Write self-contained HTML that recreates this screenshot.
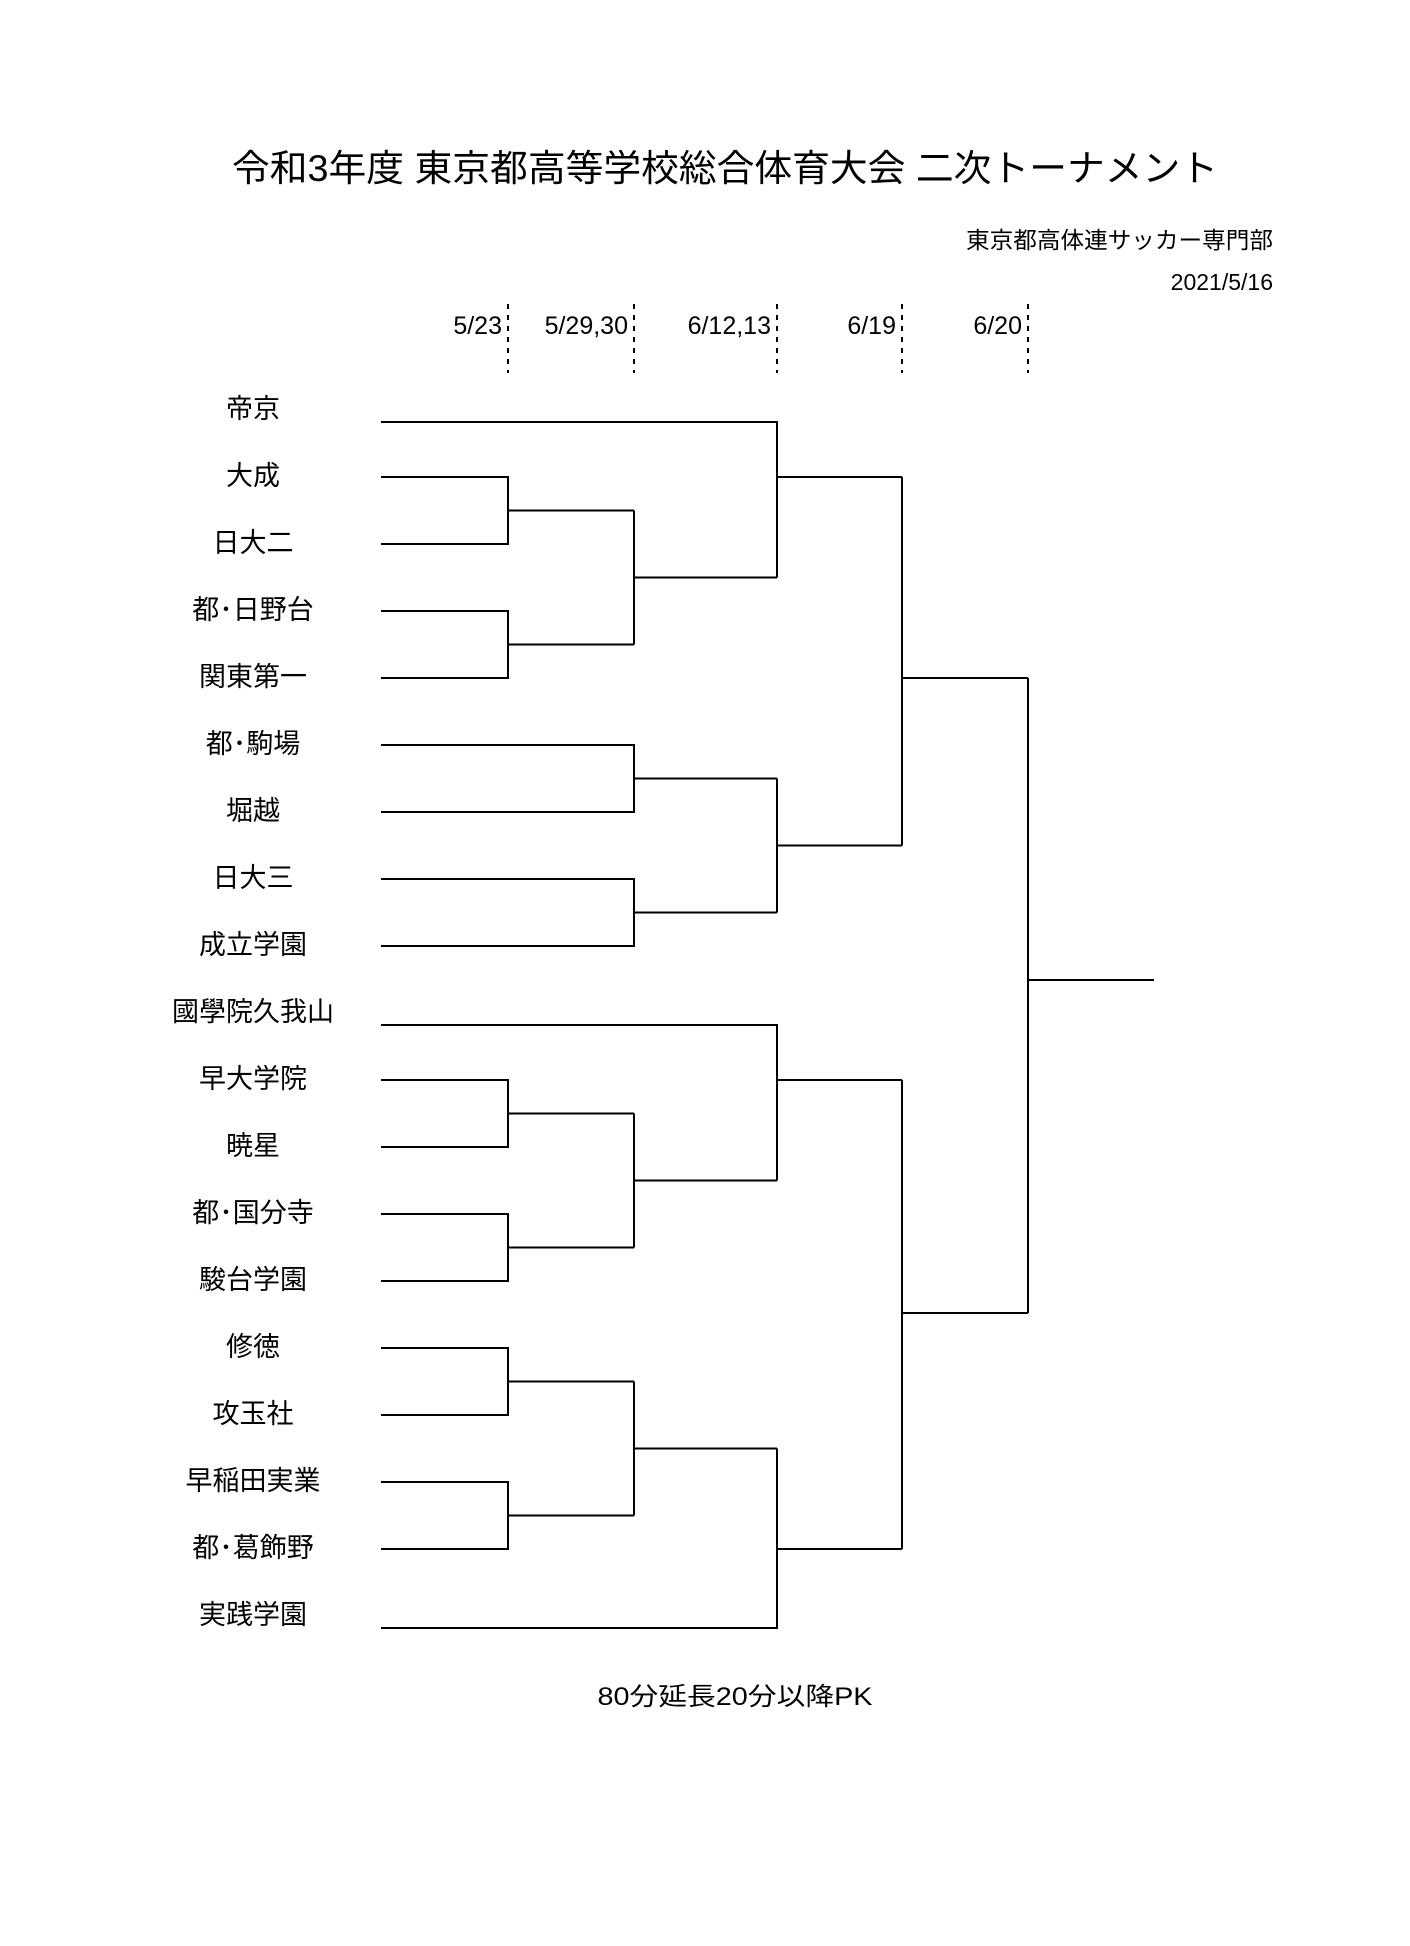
<!DOCTYPE html>
<html><head><meta charset="utf-8"><style>
html,body{margin:0;padding:0;background:#fff;}
svg{display:block;}
text{font-family:"Liberation Sans","Noto Sans CJK JP",sans-serif;fill:#000;}
</style></head><body>
<svg width="1410" height="1946" viewBox="0 0 1410 1946" xmlns="http://www.w3.org/2000/svg">
<text x="725" y="181" font-size="37" text-anchor="middle" textLength="986" lengthAdjust="spacingAndGlyphs">令和3年度 東京都高等学校総合体育大会 二次トーナメント</text>
<text x="1273" y="248" font-size="23" text-anchor="end" textLength="307" lengthAdjust="spacingAndGlyphs">東京都高体連サッカー専門部</text>
<text x="1273" y="290" font-size="23" text-anchor="end">2021/5/16</text>
<g transform="translate(3,3)">
<g font-size="25" text-anchor="end">
<text x="499" y="331">5/23</text>
<text x="625" y="331">5/29,30</text>
<text x="768" y="331">6/12,13</text>
<text x="893" y="331">6/19</text>
<text x="1019" y="331">6/20</text>
</g>
<g stroke="#000" stroke-width="2" stroke-dasharray="5,6">
<line x1="505" y1="301" x2="505" y2="370"/>
<line x1="631" y1="301" x2="631" y2="370"/>
<line x1="774" y1="301" x2="774" y2="370"/>
<line x1="899" y1="301" x2="899" y2="370"/>
<line x1="1025" y1="301" x2="1025" y2="370"/>
</g>
<g stroke="#000" stroke-width="2" fill="none">
<path d="M378 474H505V541H378M505 507.5H631"/>
<path d="M378 608H505V675H378M505 641.5H631"/>
<path d="M378 1077H505V1144H378M505 1110.5H631"/>
<path d="M378 1211H505V1278H378M505 1244.5H631"/>
<path d="M378 1345H505V1412H378M505 1378.5H631"/>
<path d="M378 1479H505V1546H378M505 1512.5H631"/>
<path d="M631 507.5V641.5M631 574.5H774"/>
<path d="M378 742H631V809H378M631 775.5H774"/>
<path d="M378 876H631V943H378M631 909.5H774"/>
<path d="M631 1110.5V1244.5M631 1177.5H774"/>
<path d="M631 1378.5V1512.5M631 1445.5H774"/>
<path d="M378 419H774V574.5M774 474H899"/>
<path d="M774 775.5V909.5M774 842.5H899"/>
<path d="M378 1022H774V1177.5M774 1077H899"/>
<path d="M774 1445.5V1625H378M774 1546H899"/>
<path d="M899 474V842.5M899 675H1025"/>
<path d="M899 1077V1546M899 1310H1025"/>
<path d="M1025 675V1310M1025 977H1151"/>
</g>
</g>
<g font-size="27" text-anchor="middle">
<text x="253" y="418">帝京</text>
<text x="253" y="485">大成</text>
<text x="253" y="552">日大二</text>
<text x="253" y="619">都･日野台</text>
<text x="253" y="686">関東第一</text>
<text x="253" y="753">都･駒場</text>
<text x="253" y="820">堀越</text>
<text x="253" y="887">日大三</text>
<text x="253" y="954">成立学園</text>
<text x="253" y="1021">國學院久我山</text>
<text x="253" y="1088">早大学院</text>
<text x="253" y="1155">暁星</text>
<text x="253" y="1222">都･国分寺</text>
<text x="253" y="1289">駿台学園</text>
<text x="253" y="1356">修徳</text>
<text x="253" y="1423">攻玉社</text>
<text x="253" y="1490">早稲田実業</text>
<text x="253" y="1557">都･葛飾野</text>
<text x="253" y="1624">実践学園</text>
</g>
<text x="735" y="1705" font-size="25" text-anchor="middle" textLength="275" lengthAdjust="spacingAndGlyphs">80分延長20分以降PK</text>
</svg>
</body></html>
